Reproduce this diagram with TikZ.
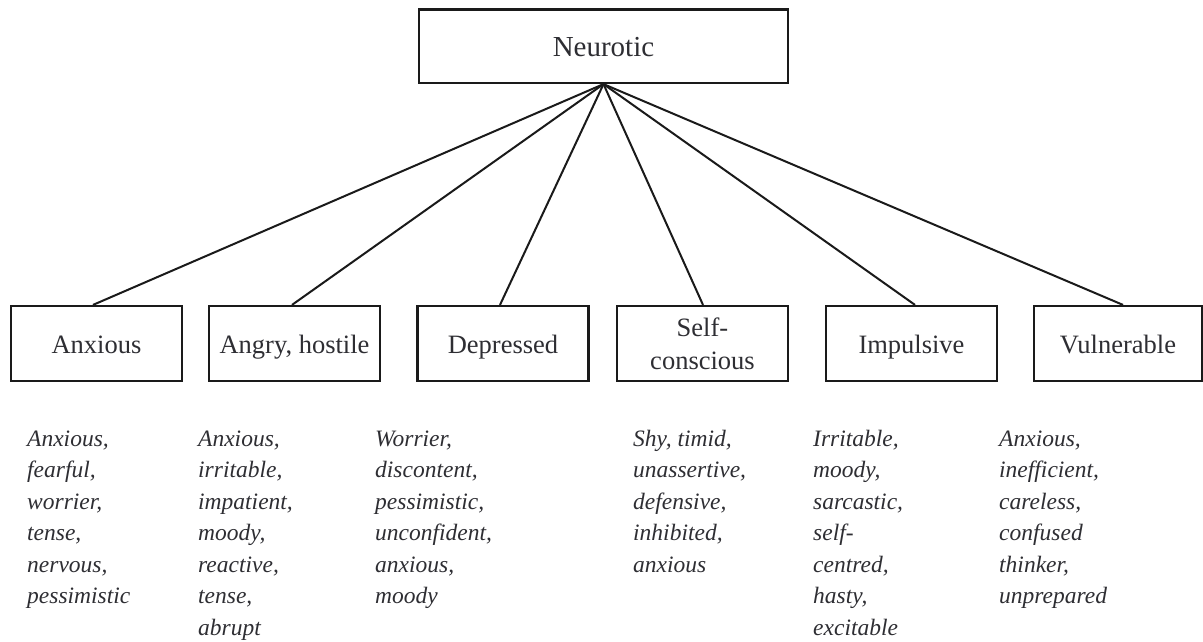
\documentclass[tikz,border=0pt]{standalone}
\usepackage{fontspec}
\setmainfont{Liberation Serif}
\usetikzlibrary{calc}
\definecolor{txt}{HTML}{2E2E33}
\definecolor{ln}{HTML}{1A1A1A}
\tikzset{
  facet/.style={draw=ln, line width=2.2pt, minimum width=171pt, minimum height=75pt, inner sep=2pt,
    text=txt, align=center, font=\fontsize{26.5}{33}\selectfont},
  oneline/.style={text height=19pt, text depth=0pt},
  topbox/.style={draw=ln, line width=2.2pt, minimum width=369pt, minimum height=73.5pt,
    text=txt, font=\fontsize{29}{34}\selectfont, text height=20pt, text depth=0pt},
  traits/.style={anchor=base west, align=left, inner sep=0pt, text=txt,
    font=\fontsize{23.5}{31.5}\selectfont\itshape},
  link/.style={draw=ln, line width=2pt}
}
\begin{document}
\begin{tikzpicture}[x=1pt,y=-1pt]
\useasboundingbox (0,0) rectangle (1203,641);
\node[topbox] (neu) at (603.5,46.25) {Neurotic};
\node[facet, oneline] (anx) at (96.5,343.5) {Anxious};
\node[facet, oneline] (ang) at (294.5,343.5) {Angry, hostile};
\node[facet, oneline] (dep) at (503,343.5) {Depressed};
\node[facet] (sel) at (702.5,343.5) {Self-\\conscious};
\node[facet, oneline] (imp) at (911.5,343.5) {Impulsive};
\node[facet, oneline, minimum width=168pt] (vul) at (1118,343.5) {Vulnerable};
\draw[link] (neu.south) -- ([xshift=-3.5pt]anx.north);
\draw[link] (neu.south) -- ([xshift=-2.5pt]ang.north);
\draw[link] (neu.south) -- ([xshift=-3pt]dep.north);
\draw[link] (neu.south) -- ([xshift=0.5pt]sel.north);
\draw[link] (neu.south) -- ([xshift=3.5pt]imp.north);
\draw[link] (neu.south) -- ([xshift=5pt]vul.north);
% base anchor sits on the last line: first baseline at 446, step 31.5
\node[traits] (t1) at (27,603.5) {Anxious,\\fearful,\\worrier,\\tense,\\nervous,\\pessimistic};
\node[traits] (t2) at (198,635) {Anxious,\\irritable,\\impatient,\\moody,\\reactive,\\tense,\\abrupt};
\node[traits] (t3) at (375,603.5) {Worrier,\\discontent,\\pessimistic,\\unconfident,\\anxious,\\moody};
\node[traits] (t4) at (633,572) {Shy, timid,\\unassertive,\\defensive,\\inhibited,\\anxious};
\node[traits] (t5) at (813,635) {Irritable,\\moody,\\sarcastic,\\self-\\centred,\\hasty,\\excitable};
\node[traits] (t6) at (999,603.5) {Anxious,\\inefficient,\\careless,\\confused\\thinker,\\unprepared};
\end{tikzpicture}
\end{document}
